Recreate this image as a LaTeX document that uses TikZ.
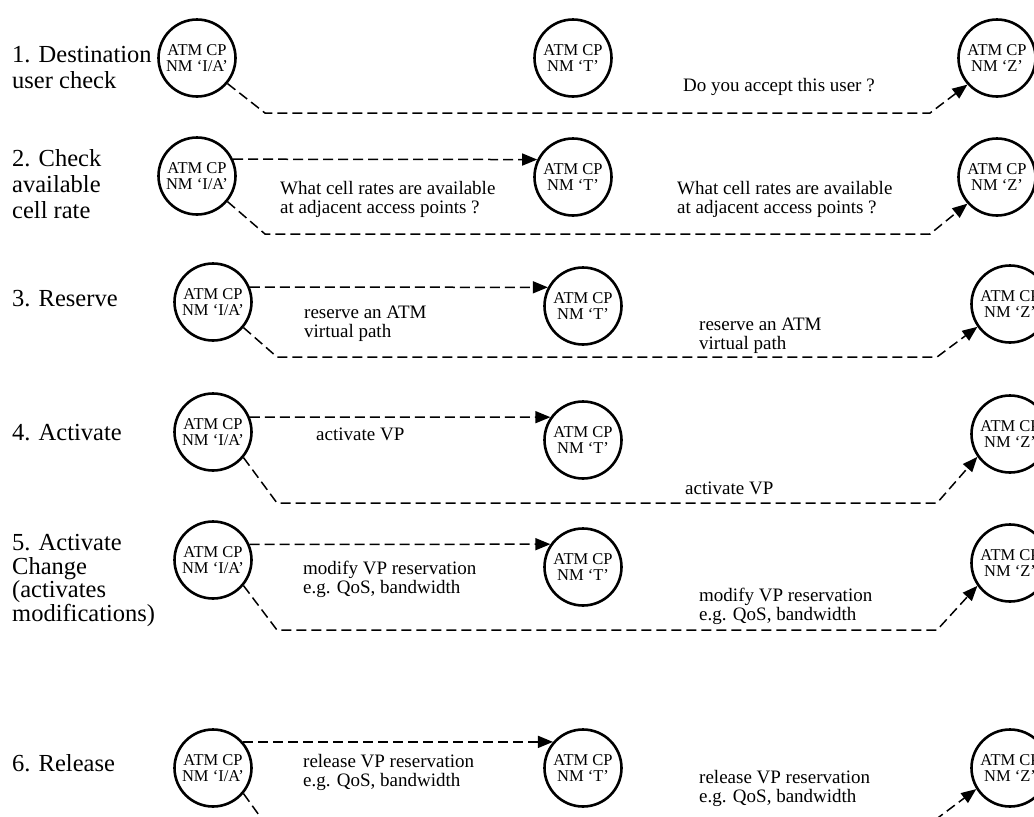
\documentclass[tikz,border=0pt]{standalone}
\usepackage{fontspec}
\setmainfont{Liberation Serif}
\usetikzlibrary{arrows.meta}
\begin{document}
\begin{tikzpicture}[x=1pt,y=-1pt,
  nm/.style={circle, draw, line width=2.6pt, minimum size=77pt, inner sep=0pt,
    align=center, font=\fontsize{16.5}{15.5}\selectfont},
  rowlabel/.style={anchor=base west, align=left, inner sep=0pt,
    font=\fontsize{24.5}{26}\selectfont},
  msgtext/.style={anchor=base west, align=left, inner sep=0pt,
    font=\fontsize{19}{18.5}\selectfont},
  msg/.style={line width=1.5pt, dash pattern=on 10pt off 5pt,
    -{Triangle[length=15pt,width=12pt]}},
  back/.style={line width=1.5pt, dash pattern=on 10pt off 5pt,
    -{Triangle[length=15pt,width=12pt]}}]
\useasboundingbox (0,0) rectangle (1034,817);
\clip (0,0) rectangle (1034,817);

% step labels (anchored at the baseline of their last line)
\node[rowlabel] (L1) at (12,88) {1. Destination\\user check};
\node[rowlabel] (L2) at (12,218) {2. Check\\available\\cell rate};
\node[rowlabel] (L3) at (12,306) {3. Reserve};
\node[rowlabel] (L4) at (12,440) {4. Activate};
\node[rowlabel, font=\fontsize{24.5}{23.5}\selectfont] (L5) at (12,621)
  {5. Activate\\Change\\(activates\\modifications)};
\node[rowlabel] (L6) at (12,771) {6. Release};

% row 1: destination user check
\node[nm] (IA1) at (197,58) {ATM CP\\NM ‘I/A’};
\node[nm] (T1) at (573,58) {ATM CP\\NM ‘T’};
\node[nm] (Z1) at (997,58) {ATM CP\\NM ‘Z’};
\coordinate (a1) at (265,113);
\coordinate (b1) at (930,113);
\draw[back] (IA1.-40) -- (a1) -- (b1) -- (Z1.222);
\node[msgtext] (m1b) at (683,91) {Do you accept this user ?};

% row 2: check available cell rate
\node[nm] (IA2) at (197,176) {ATM CP\\NM ‘I/A’};
\node[nm] (T2) at (573,177) {ATM CP\\NM ‘T’};
\node[nm] (Z2) at (997,177) {ATM CP\\NM ‘Z’};
\draw[msg] (IA2.25) -- (T2.154);
\coordinate (a2) at (265,234);
\coordinate (b2) at (930,234);
\draw[back] (IA2.-40) -- (a2) -- (b2) -- (Z2.222);
\node[msgtext] (m2a) at (280,213) {What cell rates are available\\at adjacent access points ?};
\node[msgtext] (m2b) at (677,213) {What cell rates are available\\at adjacent access points ?};

% row 3: reserve
\node[nm] (IA3) at (213,302) {ATM CP\\NM ‘I/A’};
\node[nm] (T3) at (583,306) {ATM CP\\NM ‘T’};
\node[nm] (Z3) at (1010,304) {ATM CP\\NM ‘Z’};
\draw[msg] (IA3.22) -- (T3.152);
\coordinate (a3) at (277,357);
\coordinate (b3) at (937,357);
\draw[back] (IA3.-40) -- (a3) -- (b3) -- (Z3.215);
\node[msgtext] (m3a) at (304,337) {reserve an ATM\\virtual path};
\node[msgtext] (m3b) at (699,349) {reserve an ATM\\virtual path};

% row 4: activate
\node[nm] (IA4) at (213,432) {ATM CP\\NM ‘I/A’};
\node[nm] (T4) at (583,440) {ATM CP\\NM ‘T’};
\node[nm] (Z4) at (1010,434) {ATM CP\\NM ‘Z’};
\draw[msg] (IA4.22) -- (T4.145);
\coordinate (a4) at (277,503);
\coordinate (b4) at (937,503);
\draw[back] (IA4.-40) -- (a4) -- (b4) -- (Z4.215);
\node[msgtext] (m4a) at (316,440) {activate VP};
\node[msgtext] (m4b) at (685,494) {activate VP};

% row 5: activate change
\node[nm] (IA5) at (213,560) {ATM CP\\NM ‘I/A’};
\node[nm] (T5) at (583,567) {ATM CP\\NM ‘T’};
\node[nm] (Z5) at (1010,563) {ATM CP\\NM ‘Z’};
\draw[msg] (IA5.23) -- (T5.145);
\coordinate (a5) at (277,630);
\coordinate (b5) at (937,630);
\draw[back] (IA5.-40) -- (a5) -- (b5) -- (Z5.215);
\node[msgtext] (m5a) at (303,593) {modify VP reservation\\e.g. QoS, bandwidth};
\node[msgtext] (m5b) at (699,620) {modify VP reservation\\e.g. QoS, bandwidth};

% row 6: release (return path runs below the lower edge)
\node[nm] (IA6) at (213,768) {ATM CP\\NM ‘I/A’};
\node[nm] (T6) at (583,768) {ATM CP\\NM ‘T’};
\node[nm] (Z6) at (1010,768) {ATM CP\\NM ‘Z’};
\draw[msg] (IA6.41) -- (T6.139);
\coordinate (a6) at (277,840);
\coordinate (b6) at (915,835);
\draw[back] (IA6.-40) -- (a6) -- (b6) -- (Z6.212);
\node[msgtext] (m6a) at (303,786) {release VP reservation\\e.g. QoS, bandwidth};
\node[msgtext] (m6b) at (699,802) {release VP reservation\\e.g. QoS, bandwidth};
\end{tikzpicture}
\end{document}
